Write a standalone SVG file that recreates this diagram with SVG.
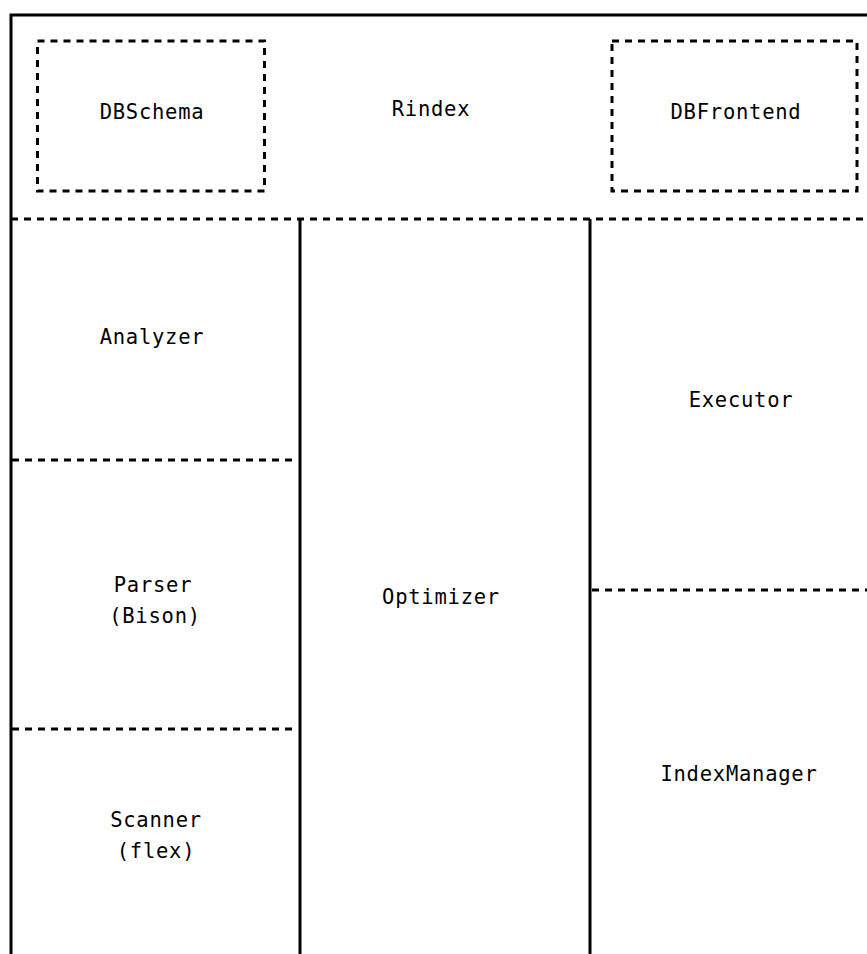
<svg xmlns="http://www.w3.org/2000/svg" width="867" height="954" viewBox="0 0 867 954">
  <style>
    .solid { fill: none; stroke: #000; stroke-width: 3; }
    .dash { fill: none; stroke: #000; stroke-width: 3; stroke-dasharray: 7 6; }
    text { font-family: "DejaVu Sans Mono", "Liberation Mono", monospace; font-size: 20.5px; letter-spacing: 0.75px; fill: #000; text-anchor: middle; }
  </style>
  <rect width="867" height="954" fill="#fff"/>

  <!-- partition lines -->
  <g id="connectors">
    <polyline class="solid" points="11,954 11,15 867,15"/>
    <line class="dash" x1="11" y1="219" x2="867" y2="219"/>
    <line class="solid" x1="300" y1="219" x2="300" y2="954"/>
    <line class="solid" x1="590" y1="219" x2="590" y2="954"/>
    <line class="dash" x1="12" y1="460" x2="294" y2="460"/>
    <line class="dash" x1="12" y1="729" x2="294" y2="729"/>
    <line class="dash" x1="592" y1="590" x2="867" y2="590"/>
  </g>

  <g id="Rindex">
    <text x="431" y="116">Rindex</text>
  </g>
  <g id="DBSchema">
    <rect class="dash" x="37.5" y="41" width="227" height="150"/>
    <text x="152" y="119">DBSchema</text>
  </g>
  <g id="DBFrontend">
    <rect class="dash" x="612" y="41" width="245" height="150"/>
    <text x="736" y="119">DBFrontend</text>
  </g>
  <g id="Analyzer">
    <text x="152" y="344">Analyzer</text>
  </g>
  <g id="Parser">
    <text x="153" y="592">Parser</text>
    <text x="155" y="623">(Bison)</text>
  </g>
  <g id="Scanner">
    <text x="156" y="827">Scanner</text>
    <text x="156" y="858">(flex)</text>
  </g>
  <g id="Optimizer">
    <text x="441" y="604">Optimizer</text>
  </g>
  <g id="Executor">
    <text x="741" y="407">Executor</text>
  </g>
  <g id="IndexManager">
    <text x="739" y="781">IndexManager</text>
  </g>
</svg>
